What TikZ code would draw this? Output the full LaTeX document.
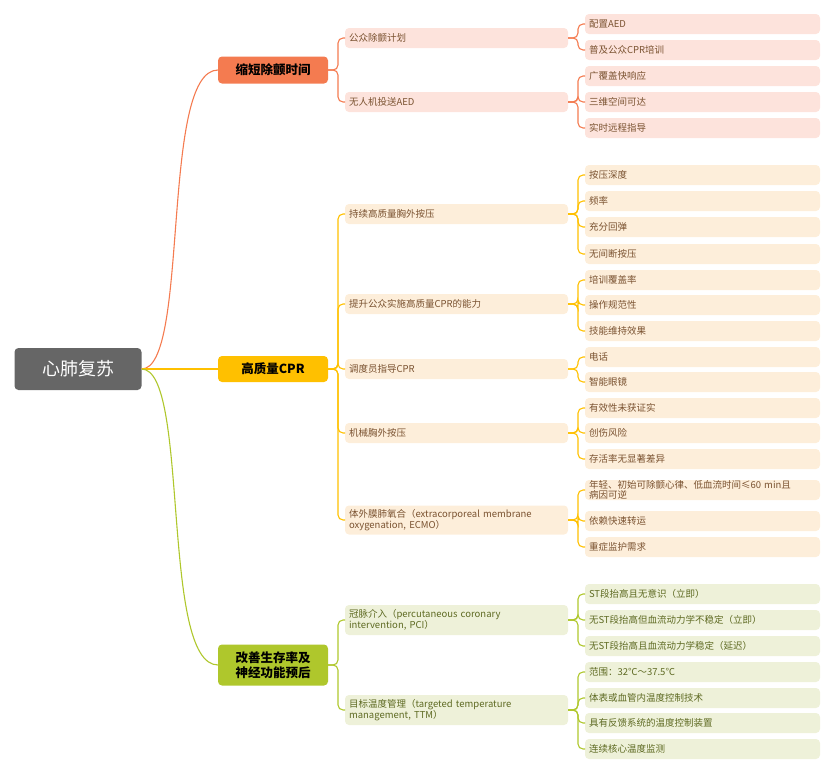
\documentclass[tikz,border=0pt]{standalone}
\usepackage{fontspec}
\setmainfont{Noto Sans CJK SC}
\definecolor{rootgray}{HTML}{666666}
\definecolor{corange}{HTML}{F47B50}
\definecolor{cyellow}{HTML}{FFC000}
\definecolor{cgreen}{HTML}{AFC72C}
\definecolor{fpink}{HTML}{FDE3DC}
\definecolor{fpeach}{HTML}{FDEEDA}
\definecolor{flime}{HTML}{EEF1D9}
\definecolor{tbrown}{HTML}{7A5230}
\definecolor{tolive}{HTML}{5E6A22}
\begin{document}
\begin{tikzpicture}[x=1pt,y=-1pt,inner sep=0pt,outer sep=0pt,
	topic/.style={rectangle,rounded corners=4pt,anchor=west,minimum width=110pt,align=center,font=\fontsize{12.5}{15}\selectfont\bfseries},
	sub/.style={rectangle,rounded corners=4pt,anchor=west,minimum width=223pt,text width=215pt,minimum height=20pt,inner xsep=4pt,align=left,font=\fontsize{9.5}{10}\selectfont},
	leaf/.style={rectangle,rounded corners=4pt,anchor=west,minimum width=235pt,text width=227pt,minimum height=20pt,inner xsep=4pt,align=left,font=\fontsize{9.5}{10}\selectfont},
	link/.style={line width=1.1pt,rounded corners=5pt}]
	\useasboundingbox (0,0) rectangle (839,782);
	% root and main branches
	\node[rectangle,rounded corners=4pt,fill=rootgray,text=white,minimum width=127pt,minimum height=42pt,font=\fontsize{18}{20}\selectfont] (root) at (78,369) {心肺复苏};
	\node[topic,fill=corange,minimum height=27pt] (defib) at (218,70) {缩短除颤时间};
	\node[topic,fill=cyellow,minimum height=26pt] (cpr) at (218,369) {高质量CPR};
	\node[topic,fill=cgreen,minimum height=41pt] (surv) at (218,665) {改善生存率及\\神经功能预后};
	\draw[link,corange] (root.east) .. controls (190,369) and (160,70) .. (defib.west);
	\draw[link,cyellow] (root.east) -- (cpr.west);
	\draw[link,cgreen] (root.east) .. controls (190,369) and (160,665) .. (surv.west);
	% second level
	\node[sub,fill=fpink,text=tbrown] (pad) at (345,38) {公众除颤计划};
	\node[sub,fill=fpink,text=tbrown] (drone) at (345,102) {无人机投送AED};
	\node[sub,fill=fpeach,text=tbrown] (comp) at (345,214) {持续高质量胸外按压};
	\node[sub,fill=fpeach,text=tbrown] (train) at (345,304) {提升公众实施高质量CPR的能力};
	\node[sub,fill=fpeach,text=tbrown] (disp) at (345,369) {调度员指导CPR};
	\node[sub,fill=fpeach,text=tbrown] (mech) at (345,433) {机械胸外按压};
	\node[sub,fill=fpeach,text=tbrown,minimum height=29pt] (ecmo) at (345,520) {体外膜肺氧合（extracorporeal membrane\\oxygenation, ECMO）};
	\node[sub,fill=flime,text=tolive,minimum height=30pt] (pci) at (345,620) {冠脉介入（percutaneous coronary\\intervention, PCI）};
	\node[sub,fill=flime,text=tolive,minimum height=30pt] (ttm) at (345,710) {目标温度管理（targeted temperature\\management, TTM）};
	\foreach \p in {pad,drone} \draw[link,corange] (defib.east) -- ++(10,0) |- (\p.west);
	\foreach \p in {comp,train,disp,mech,ecmo} \draw[link,cyellow] (cpr.east) -- ++(10,0) |- (\p.west);
	\foreach \p in {pci,ttm} \draw[link,cgreen] (surv.east) -- ++(10,0) |- (\p.west);
	% leaves
	\foreach \pn/\lc/\fc/\tc/\lst in {
		pad/corange/fpink/tbrown/{24/配置AED,50/普及公众CPR培训},
		drone/corange/fpink/tbrown/{76/广覆盖快响应,102/三维空间可达,128/实时远程指导},
		comp/cyellow/fpeach/tbrown/{175/按压深度,201/频率,227/充分回弹,254/无间断按压},
		train/cyellow/fpeach/tbrown/{280/培训覆盖率,305/操作规范性,331/技能维持效果},
		disp/cyellow/fpeach/tbrown/{357/电话,382/智能眼镜},
		mech/cyellow/fpeach/tbrown/{408/有效性未获证实,433/创伤风险,459/存活率无显著差异},
		ecmo/cyellow/fpeach/tbrown/{490/{年轻、初始可除颤心律、低血流时间≤60 min且\\病因可逆},521/依赖快速转运,547/重症监护需求},
		pci/cgreen/flime/tolive/{594/ST段抬高且无意识（立即）,620/无ST段抬高但血流动力学不稳定（立即）,646/无ST段抬高且血流动力学稳定（延迟）},
		ttm/cgreen/flime/tolive/{672/范围：32℃～37.5℃,698/体表或血管内温度控制技术,723/具有反馈系统的温度控制装置,749/连续核心温度监测}}
	{
		\foreach \y/\t in \lst {
			\node[leaf,fill=\fc,text=\tc] (leaf-\y) at (585,\y) {\t};
			\draw[link,\lc] (\pn.east) -- ++(10,0) |- (leaf-\y.west);
		}
	}
\end{tikzpicture}
\end{document}
